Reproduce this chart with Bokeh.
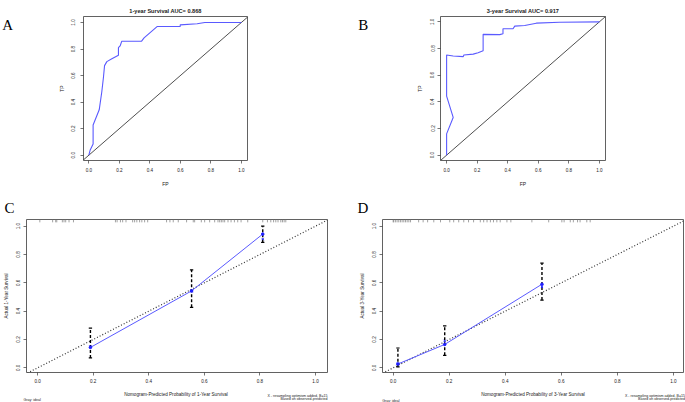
from bokeh.plotting import figure
from bokeh.layouts import column, row
from bokeh.models import FixedTicker, NumeralTickFormatter, Range1d
from bokeh.core.properties import value
from bokeh.embed import file_html
from bokeh.resources import INLINE

# ---------------- data ----------------
roc1_title = "1-year Survival AUC= 0.868"
roc1_fp = [0.0, 0.009, 0.028, 0.028, 0.068, 0.085, 0.096, 0.103, 0.118, 0.148, 0.194, 0.194,
           0.205, 0.216, 0.346, 0.362, 0.449, 0.599, 0.599, 0.710, 0.760, 1.0]
roc1_tp = [0.0, 0.040, 0.084, 0.227, 0.342, 0.478, 0.589, 0.675, 0.705, 0.724, 0.753, 0.810,
           0.823, 0.859, 0.859, 0.884, 0.970, 0.970, 0.982, 0.990, 1.0, 1.0]

roc3_title = "3-year Survival AUC= 0.917"
roc3_fp = [0.0, 0.0, 0.043, 0.0, 0.0, 0.043, 0.109, 0.113, 0.174, 0.206, 0.239, 0.239,
           0.348, 0.369, 0.369, 0.435, 0.446, 0.511, 0.587, 0.739, 1.0]
roc3_tp = [0.0, 0.160, 0.283, 0.443, 0.751, 0.744, 0.739, 0.751, 0.758, 0.768, 0.783, 0.906,
           0.904, 0.911, 0.948, 0.948, 0.968, 0.973, 0.990, 0.997, 1.0]

cal1_pred = [0.190, 0.554, 0.810]
cal1_obs = [0.144, 0.543, 0.944]
cal1_corr = [0.150, 0.540, 0.909]
cal1_lo = [0.070, 0.427, 0.886]
cal1_hi = [0.280, 0.692, 1.000]
cal1_rug = [0.008, 0.054, 0.065, 0.069, 0.089, 0.095, 0.101, 0.113, 0.129, 0.280, 0.286,
            0.298, 0.306, 0.318, 0.342, 0.349, 0.357, 0.367, 0.375, 0.385, 0.396, 0.464,
            0.476, 0.488, 0.506, 0.536, 0.560, 0.565, 0.589, 0.601, 0.619, 0.637, 0.649,
            0.655, 0.661, 0.667, 0.673, 0.685, 0.696, 0.708, 0.720, 0.732, 0.756, 0.810,
            0.827, 0.839, 0.849, 0.857, 0.865, 0.875, 0.881, 0.887, 0.893]

cal3_pred = [0.017, 0.184, 0.531]
cal3_obs = [0.027, 0.165, 0.590]
cal3_corr = [0.030, 0.190, 0.571]
cal3_lo = [0.007, 0.088, 0.478]
cal3_hi = [0.140, 0.296, 0.739]
cal3_rug = [0.0, 0.002, 0.008, 0.014, 0.020, 0.026, 0.032, 0.038, 0.044, 0.050, 0.056,
            0.062, 0.091, 0.107, 0.123, 0.145, 0.169, 0.202, 0.216, 0.234, 0.252, 0.269,
            0.287, 0.311, 0.323, 0.335, 0.347, 0.358, 0.370, 0.382, 0.406, 0.420, 0.495,
            0.555, 0.602, 0.610, 0.632, 0.643, 0.658, 0.667, 0.691, 0.703]

ticks = [0.0, 0.2, 0.4, 0.6, 0.8, 1.0]
cal1_xlabel = "Nomogram-Predicted Probability of 1-Year Survival"
cal3_xlabel = "Nomogram-Predicted Probability of 3-Year Survival"
note_ideal = "Gray: ideal"
note_resample = "X - resampling optimism added, B=15"
note_based = "Based on observed-predicted"

SANS = "Liberation Sans"
SERIF = "Liberation Serif"
BLUE_LINE = "#5a5aff"
BLUE_PT = "#1f1fff"
BOX = "#3a3a3a"
TXT = "#222222"


def make_fig(g):
    p = figure(width=g["w"], height=g["h"],
               x_range=Range1d(*g["xr"]), y_range=Range1d(*g["yr"]),
               output_backend="svg", toolbar_location=None,
               min_border_left=g["bl"], min_border_right=g["br"],
               min_border_top=g["bt"], min_border_bottom=g["bb"])
    p.grid.visible = False
    p.outline_line_color = BOX
    p.outline_line_width = 0.8
    p.border_fill_color = "white"
    p.background_fill_color = "white"
    for ax in (p.xaxis[0], p.yaxis[0]):
        ax.ticker = FixedTicker(ticks=ticks)
        ax.formatter = NumeralTickFormatter(format="0.0")
        ax.axis_line_color = None
        ax.major_tick_line_color = BOX
        ax.major_tick_line_width = 0.7
        ax.major_tick_in = 0
        ax.major_tick_out = 3
        ax.minor_tick_line_color = None
        ax.major_label_text_font = SANS
        ax.major_label_text_font_size = "4.6px"
        ax.major_label_text_color = TXT
        ax.axis_label_text_font = SANS
        ax.axis_label_text_font_size = g["afs"]
        ax.axis_label_text_font_style = "normal"
        ax.axis_label_text_color = TXT
    p.yaxis[0].major_label_orientation = "vertical"
    p.xaxis[0].major_label_standoff = g["xls"]
    p.xaxis[0].axis_label_standoff = g["xas"]
    p.yaxis[0].major_label_standoff = g["yls"]
    p.yaxis[0].axis_label_standoff = g["yas"]
    return p


def set_title(p, text, size, font, style, align, offset, standoff, valign, color=TXT):
    p.title.text = text
    p.title.text_font = font
    p.title.text_font_size = size
    p.title.text_font_style = style
    p.title.text_color = color
    p.title.align = align
    p.title.offset = offset
    p.title.standoff = standoff
    p.title.vertical_align = valign


def text_strip(x0, y0, w, h):
    """A bare figure whose frame fills it; coordinates are page pixels (y down)."""
    s = figure(width=w, height=h,
               x_range=Range1d(x0, x0 + w), y_range=Range1d(y0 + h, y0),
               x_axis_type=None, y_axis_type=None, min_border=0,
               toolbar_location=None, output_backend="svg")
    s.outline_line_color = None
    s.background_fill_color = "white"
    s.border_fill_color = "white"
    return s


def put(s, xs, ys, texts, size, font=SANS, align="left", baseline="middle",
        style="normal", color=TXT):
    s.text(x=xs, y=ys, text=texts, text_font=value(font), text_font_size=value(size),
           text_font_style=style, text_align=align, text_baseline=baseline,
           text_color=color)


# ---------------- geometry (page px) ----------------
gA = dict(w=326, h=190, bl=69, br=93, bt=13, bb=30,
          xr=(-0.035, 1.04), yr=(-0.04, 1.045), afs="5px", xls=4, xas=6, yls=5, yas=4)
gB = dict(w=315, h=190, bl=70, br=80, bt=16, bb=27,
          xr=(-0.04, 1.04), yr=(-0.04, 1.04), afs="5px", xls=4, xas=6, yls=3, yas=5)
gC = dict(w=340, h=195, bl=24, br=13, bt=29, bb=12,
          xr=(-0.04, 1.043), yr=(-0.033, 1.047), afs="4.6px", xls=3, xas=3, yls=3, yas=5)
gD = dict(w=345, h=195, bl=42, br=2, bt=29, bb=12,
          xr=(-0.038, 1.036), yr=(-0.033, 1.047), afs="4.6px", xls=3, xas=3, yls=3, yas=5)


def roc_panel(g, fp, tp, title):
    p = make_fig(g)
    p.xaxis[0].axis_label = "FP"
    p.yaxis[0].axis_label = "TP"
    p.line([-0.2, 1.2], [-0.2, 1.2], line_color="#222222", line_width=0.8)
    p.line(fp, tp, line_color=BLUE_LINE, line_width=1.1)
    set_title(p, title, "5.6px", SANS, "bold", "center", 0, 2, "top")
    return p


def cal_panel(g, pred, obs, corr, lo, hi, rug, yr_label, letter, letter_offset):
    p = make_fig(g)
    p.yaxis[0].axis_label = f"Actual {yr_label}-Year Survival"
    top = g["yr"][1]
    p.segment(x0=rug, y0=[top - 0.02] * len(rug), x1=rug, y1=[top] * len(rug),
              line_color="#7a7a7a", line_width=0.7)
    p.line([-0.2, 1.2], [-0.2, 1.2], line_color="#333333", line_width=1.2, line_dash="1 2")
    p.segment(x0=pred, y0=lo, x1=pred, y1=hi, line_color="#000000", line_width=1.4,
              line_dash="3 2")
    cw = 0.006
    p.segment(x0=[v - cw for v in pred], y0=hi, x1=[v + cw for v in pred], y1=hi,
              line_color="#000000", line_width=1.2)
    p.segment(x0=[v - cw for v in pred], y0=lo, x1=[v + cw for v in pred], y1=lo,
              line_color="#000000", line_width=1.2)
    p.line(pred, obs, line_color=BLUE_LINE, line_width=1.0)
    p.scatter(pred, obs, size=2.6, marker="circle", fill_color=BLUE_PT, line_color=BLUE_PT)
    p.scatter(pred, corr, size=3.2, marker="x", line_color=BLUE_PT, line_width=0.9)
    set_title(p, letter, "15px", SERIF, "normal", "left", letter_offset, 7, "bottom",
              color="#000000")
    return p


pA = roc_panel(gA, roc1_fp, roc1_tp, roc1_title)
pB = roc_panel(gB, roc3_fp, roc3_tp, roc3_title)
pC = cal_panel(gC, cal1_pred, cal1_obs, cal1_corr, cal1_lo, cal1_hi, cal1_rug, "1", "C", -22)
pD = cal_panel(gD, cal3_pred, cal3_obs, cal3_corr, cal3_lo, cal3_hi, cal3_rug, "3", "D", -25)

# ---------------- text strips (panel letters A/B, bottom labels and notes) ----------------
s_letA = text_strip(0, 0, 14, 190)
put(s_letA, [1.7], [10.6], ["A"], "15px", font=SERIF, baseline="alphabetic", color="#000000")
s_letB = text_strip(340, 0, 30, 190)
put(s_letB, [357.8], [10.6], ["B"], "15px", font=SERIF, baseline="alphabetic", color="#000000")

s_bottom = text_strip(0, 385, 685, 17)
put(s_bottom, [175.5, 532.5], [394.0, 394.0], [cal1_xlabel, cal3_xlabel], "4.6px",
    align="center")
put(s_bottom, [23, 381.7], [399.6, 400.0], [note_ideal, note_ideal], "3.6px")
put(s_bottom, [327, 327, 684.5, 684.5], [395.0, 398.4, 395.3, 398.7],
    [note_resample, note_based, note_resample, note_based], "3.6px", align="right")

layout = column(
    row(s_letA, pA, s_letB, pB),
    row(pC, pD),
    s_bottom,
)
open("out.html", "w").write(file_html(layout, INLINE))
